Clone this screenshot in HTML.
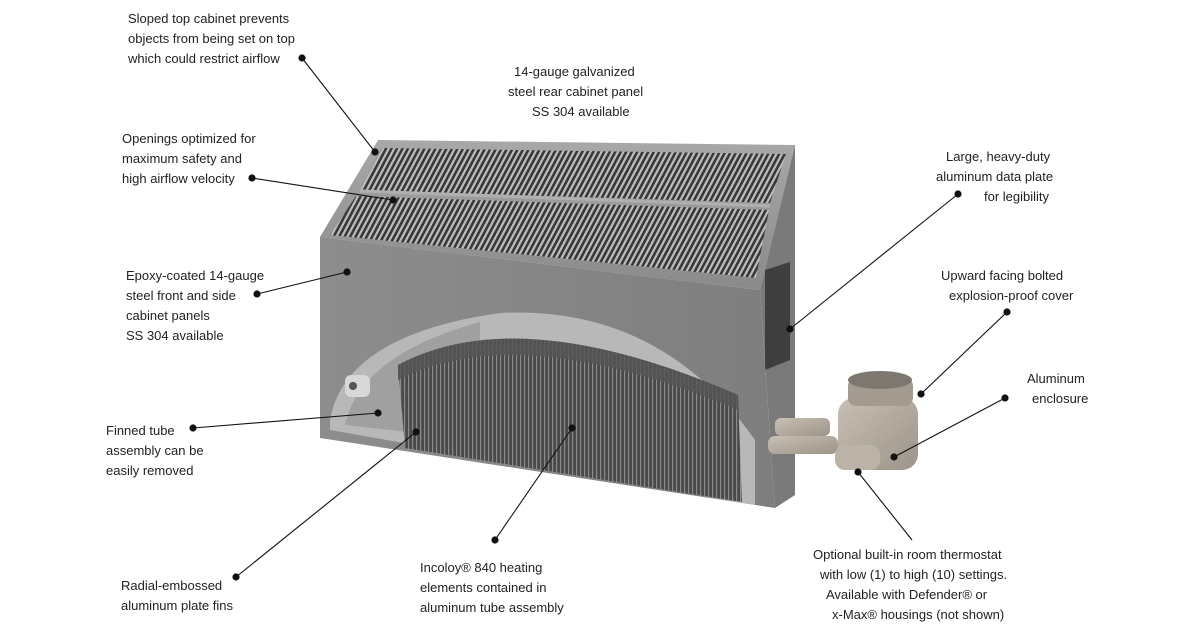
<!DOCTYPE html>
<html><head><meta charset="utf-8"><style>
html,body{margin:0;padding:0;background:#fff;}
svg{display:block}
text{font-family:"Liberation Sans",sans-serif;font-size:13px;fill:#222;}
</style></head><body>
<svg width="1187" height="634" viewBox="0 0 1187 634" xmlns="http://www.w3.org/2000/svg">
<defs>
<linearGradient id="front" x1="0" y1="0" x2="1" y2="0"><stop offset="0" stop-color="#8d8d8d"/><stop offset="1" stop-color="#7e7e7e"/></linearGradient>
<linearGradient id="grill" x1="0" y1="0" x2="0" y2="1"><stop offset="0" stop-color="#a8a8a8"/><stop offset="1" stop-color="#8a8a8a"/></linearGradient>
<pattern id="slots" width="5.5" height="10" patternUnits="userSpaceOnUse" patternTransform="skewX(-28)"><rect width="5.5" height="10" fill="#bdbdbd"/><rect x="1.5" width="3" height="10" fill="#3a3a3a"/></pattern>
<pattern id="fins" width="4" height="10" patternUnits="userSpaceOnUse"><rect width="4" height="10" fill="#4a4a4a"/><rect x="0" width="1.2" height="10" fill="#8a8a8a"/></pattern>
<linearGradient id="brass" x1="0" y1="0" x2="1" y2="1"><stop offset="0" stop-color="#c8c0b4"/><stop offset="1" stop-color="#9c9488"/></linearGradient>
</defs>
<polygon points="378,140 795,145 760,290 320,237" fill="url(#grill)"/>
<polygon points="382,148 786,154 770,203 360,190" fill="url(#slots)"/>
<polygon points="356,196 769,210 756,278 330,235" fill="url(#slots)"/>
<line x1="360" y1="191" x2="770" y2="206" stroke="#b0b0b0" stroke-width="3"/>
<polygon points="760,290 795,145 795,495 775,508" fill="#7a7a7a"/>
<polygon points="765,270 790,262 790,360 765,370" fill="#3e3e3e"/>
<polygon points="320,237 760,290 775,508 320,438" fill="url(#front)"/>
<path d="M330,420 Q345,335 500,313 Q660,305 755,440 L755,505 L330,430 Z" fill="#b8b8b8"/>
<path d="M345,425 Q360,355 480,322 L480,440 L345,425Z" fill="#a0a0a0"/>
<path d="M398,365 Q520,300 738,395 L742,502 L405,448 Z" fill="url(#fins)"/>
<path d="M398,365 Q520,300 738,395 L738,410 Q520,318 398,380 Z" fill="#555" opacity="0.85"/>
<rect x="345" y="375" width="25" height="22" rx="6" fill="#d8d8d8"/>
<circle cx="353" cy="386" r="4" fill="#555"/>
<rect x="775" y="418" width="55" height="18" rx="6" fill="url(#brass)"/>
<rect x="768" y="436" width="70" height="18" rx="7" fill="url(#brass)"/>
<rect x="838" y="398" width="80" height="72" rx="16" fill="url(#brass)"/>
<rect x="848" y="378" width="65" height="28" rx="8" fill="#a39b90"/>
<ellipse cx="880" cy="380" rx="32" ry="9" fill="#7d776f"/>
<rect x="835" y="445" width="45" height="25" rx="10" fill="#bbb3a8"/>
<g stroke="#111" stroke-width="1.1">
<line x1="302" y1="58" x2="375" y2="152"/>
<line x1="252" y1="178" x2="393" y2="200"/>
<line x1="257" y1="294" x2="347" y2="272"/>
<line x1="193" y1="428" x2="378" y2="413"/>
<line x1="236" y1="577" x2="416" y2="432"/>
<line x1="495" y1="540" x2="572" y2="428"/>
<line x1="958" y1="194" x2="790" y2="329"/>
<line x1="1007" y1="312" x2="921" y2="394"/>
<line x1="1005" y1="398" x2="894" y2="457"/>
<line x1="858" y1="472" x2="912" y2="540"/>
</g>
<g fill="#111">
<circle cx="302" cy="58" r="3.6"/><circle cx="375" cy="152" r="3.6"/>
<circle cx="252" cy="178" r="3.6"/><circle cx="393" cy="200" r="3.6"/>
<circle cx="257" cy="294" r="3.6"/><circle cx="347" cy="272" r="3.6"/>
<circle cx="193" cy="428" r="3.6"/><circle cx="378" cy="413" r="3.6"/>
<circle cx="236" cy="577" r="3.6"/><circle cx="416" cy="432" r="3.6"/>
<circle cx="495" cy="540" r="3.6"/><circle cx="572" cy="428" r="3.6"/>
<circle cx="958" cy="194" r="3.6"/><circle cx="790" cy="329" r="3.6"/>
<circle cx="1007" cy="312" r="3.6"/><circle cx="921" cy="394" r="3.6"/>
<circle cx="1005" cy="398" r="3.6"/><circle cx="894" cy="457" r="3.6"/>
<circle cx="858" cy="472" r="3.6"/>
</g>
<text x="128" y="23">Sloped top cabinet prevents</text>
<text x="128" y="43">objects from being set on top</text>
<text x="128" y="63">which could restrict airflow</text>
<text x="514" y="76">14-gauge galvanized</text>
<text x="508" y="96">steel rear cabinet panel</text>
<text x="532" y="116">SS 304 available</text>
<text x="122" y="143">Openings optimized for</text>
<text x="122" y="163">maximum safety and</text>
<text x="122" y="183">high airflow velocity</text>
<text x="946" y="161">Large, heavy-duty</text>
<text x="936" y="181">aluminum data plate</text>
<text x="984" y="201">for legibility</text>
<text x="126" y="280">Epoxy-coated 14-gauge</text>
<text x="126" y="300">steel front and side</text>
<text x="126" y="320">cabinet panels</text>
<text x="126" y="340">SS 304 available</text>
<text x="941" y="280">Upward facing bolted</text>
<text x="949" y="300">explosion-proof cover</text>
<text x="1027" y="383">Aluminum</text>
<text x="1032" y="403">enclosure</text>
<text x="106" y="435">Finned tube</text>
<text x="106" y="455">assembly can be</text>
<text x="106" y="475">easily removed</text>
<text x="121" y="590">Radial-embossed</text>
<text x="121" y="610">aluminum plate fins</text>
<text x="420" y="572">Incoloy® 840 heating</text>
<text x="420" y="592">elements contained in</text>
<text x="420" y="612">aluminum tube assembly</text>
<text x="813" y="559">Optional built-in room thermostat</text>
<text x="820" y="579">with low (1) to high (10) settings.</text>
<text x="826" y="599">Available with Defender® or</text>
<text x="832" y="619">x-Max® housings (not shown)</text>
</svg>
</body></html>
